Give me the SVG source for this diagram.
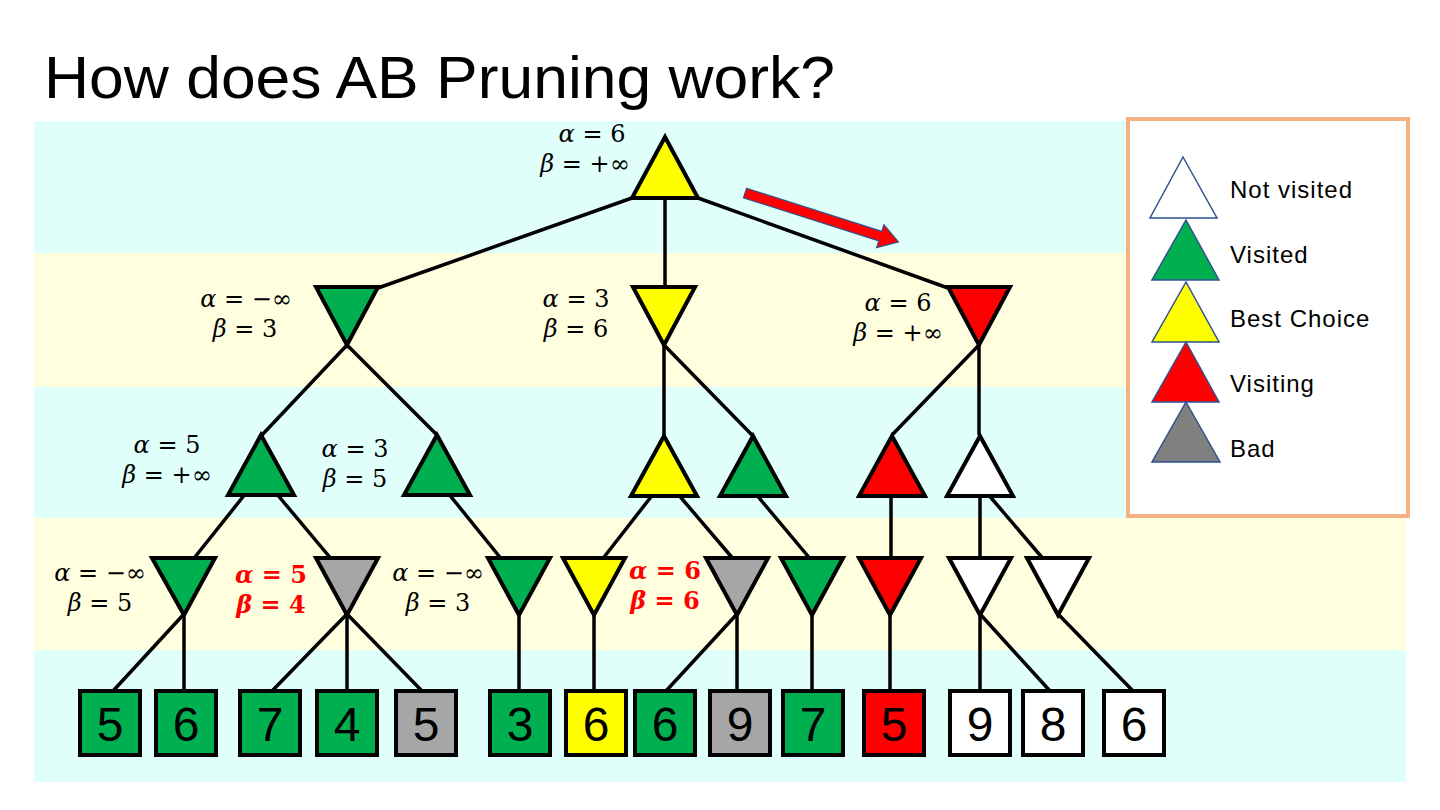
<svg xmlns="http://www.w3.org/2000/svg" width="1440" height="810" viewBox="0 0 1440 810">
<style>
.bc{fill:#E0FFFA}
.by{fill:#FFFFE0}
.n{stroke:#000;stroke-width:4;stroke-linejoin:miter}
.g{fill:#00B050}.y{fill:#FFFF00}.r{fill:#FF0000}.gr{fill:#A6A6A6}.w{fill:#FFFFFF}
.e{stroke:#000;stroke-width:3.5;fill:none}
.lb{font-family:"DejaVu Serif","Liberation Serif",serif;font-size:24px;fill:#000;text-anchor:middle}
.rb{font-family:"DejaVu Serif","Liberation Serif",serif;font-size:24px;fill:#FF0000;font-weight:bold;text-anchor:middle}
.v{font-style:italic}
.leaf{font-family:"Liberation Sans",Arial,sans-serif;font-size:48px;fill:#000;text-anchor:middle}
.lg{stroke:#2F528F;stroke-width:1.5}
.lt{font-family:"Liberation Sans",Arial,sans-serif;font-size:24px;fill:#000;letter-spacing:1px}
</style>
<rect width="1440" height="810" fill="#FFFFFF"/>
<text x="44" y="98" font-family="Liberation Sans, Arial, sans-serif" font-size="60" textLength="791" lengthAdjust="spacingAndGlyphs" fill="#000">How does AB Pruning work?</text>
<g id="background">
<rect class="bc" x="34" y="121" width="1372" height="132"/>
<rect class="by" x="34" y="253" width="1372" height="134"/>
<rect class="bc" x="34" y="387" width="1372" height="131"/>
<rect class="by" x="34" y="518" width="1372" height="132"/>
<rect class="bc" x="34" y="650" width="1372" height="132"/>
</g>
<g id="legend">
<rect x="1128" y="119" width="280" height="397" fill="#FFFFFF" stroke="#F4B183" stroke-width="4"/>
<polygon class="lg w" points="1183,157 1217,218 1150,218"/>
<polygon class="lg g" points="1186,220 1219,280 1152,280"/>
<polygon class="lg y" points="1186,282 1219,342 1152,342"/>
<polygon class="lg r" points="1186,342 1219,402 1152,402"/>
<polygon class="lg" fill="#808080" points="1186,402 1220,462 1152,462"/>
<text class="lt" x="1230" y="198">Not visited</text>
<text class="lt" x="1230" y="263">Visited</text>
<text class="lt" x="1230" y="327">Best Choice</text>
<text class="lt" x="1230" y="392">Visiting</text>
<text class="lt" x="1230" y="457">Bad</text>
</g>
<g id="connectors">
<line class="e" x1="632" y1="198" x2="378" y2="288"/>
<line class="e" x1="665" y1="198" x2="665" y2="288"/>
<line class="e" x1="698" y1="198" x2="948" y2="288"/>
<line class="e" x1="347" y1="345" x2="262" y2="435"/>
<line class="e" x1="347" y1="345" x2="437" y2="435"/>
<line class="e" x1="664" y1="345" x2="664" y2="435"/>
<line class="e" x1="664" y1="345" x2="752" y2="435"/>
<line class="e" x1="979" y1="345" x2="892" y2="435"/>
<line class="e" x1="979" y1="345" x2="979" y2="435"/>
<line class="e" x1="246" y1="493" x2="191" y2="562"/>
<line class="e" x1="276" y1="493" x2="333" y2="561"/>
<line class="e" x1="448" y1="493" x2="503" y2="561"/>
<line class="e" x1="654" y1="493" x2="601" y2="561"/>
<line class="e" x1="677" y1="493" x2="735" y2="561"/>
<line class="e" x1="755" y1="493" x2="812" y2="561"/>
<line class="e" x1="891" y1="493" x2="891" y2="561"/>
<line class="e" x1="980" y1="493" x2="980" y2="561"/>
<line class="e" x1="987" y1="493" x2="1045" y2="561"/>
<line class="e" x1="184" y1="614" x2="113" y2="691"/>
<line class="e" x1="184" y1="614" x2="184" y2="691"/>
<line class="e" x1="347" y1="614" x2="272" y2="691"/>
<line class="e" x1="347" y1="614" x2="347" y2="691"/>
<line class="e" x1="347" y1="614" x2="422" y2="691"/>
<line class="e" x1="519" y1="614" x2="519" y2="691"/>
<line class="e" x1="594" y1="614" x2="594" y2="691"/>
<line class="e" x1="737" y1="614" x2="666" y2="691"/>
<line class="e" x1="737" y1="614" x2="737" y2="691"/>
<line class="e" x1="812" y1="614" x2="812" y2="691"/>
<line class="e" x1="890" y1="614" x2="890" y2="691"/>
<line class="e" x1="980" y1="614" x2="980" y2="691"/>
<line class="e" x1="980" y1="614" x2="1050" y2="691"/>
<line class="e" x1="1058" y1="614" x2="1133" y2="691"/>
</g>
<g id="arrow">
<polygon transform="translate(745,193) rotate(17.7)" points="0,-5 142,-5 142,-12 161,0 142,12 142,5 0,5" fill="#FF0000" stroke="#2F528F" stroke-width="1.2"/>
</g>
<g id="root">
<polygon class="n y" points="665,137 698,198 632,198"/>
<text class="lb" x="592" y="142"><tspan class="v">α</tspan> = 6</text>
<text class="lb" x="585" y="172"><tspan class="v">β</tspan> = +∞</text>
</g>
<g id="min-left">
<polygon class="n g" points="316,287 378,287 347,345"/>
<text class="lb" x="246" y="307"><tspan class="v">α</tspan> = −∞</text>
<text class="lb" x="245" y="337"><tspan class="v">β</tspan> = 3</text>
</g>
<g id="min-mid">
<polygon class="n y" points="633,287 695,287 664,345"/>
<text class="lb" x="576" y="307"><tspan class="v">α</tspan> = 3</text>
<text class="lb" x="576" y="337"><tspan class="v">β</tspan> = 6</text>
</g>
<g id="min-right">
<polygon class="n r" points="948,287 1010,287 979,345"/>
<text class="lb" x="898" y="311"><tspan class="v">α</tspan> = 6</text>
<text class="lb" x="898" y="341"><tspan class="v">β</tspan> = +∞</text>
</g>
<g id="max-l1">
<polygon class="n g" points="261,435 294,495 228,495"/>
<text class="lb" x="167" y="453"><tspan class="v">α</tspan> = 5</text>
<text class="lb" x="167" y="483"><tspan class="v">β</tspan> = +∞</text>
</g>
<g id="max-l2">
<polygon class="n g" points="437,435 470,495 404,495"/>
<text class="lb" x="355" y="457"><tspan class="v">α</tspan> = 3</text>
<text class="lb" x="355" y="487"><tspan class="v">β</tspan> = 5</text>
</g>
<g id="max-m1">
<polygon class="n y" points="664,436 697,496 631,496"/>
</g>
<g id="max-m2">
<polygon class="n g" points="753,436 786,496 720,496"/>
</g>
<g id="max-r1">
<polygon class="n r" points="892,436 925,496 859,496"/>
</g>
<g id="max-r2">
<polygon class="n w" points="980,436 1013,496 947,496"/>
</g>
<g id="min-a">
<polygon class="n g" points="152,558 215,558 184,615"/>
<text class="lb" x="100" y="581"><tspan class="v">α</tspan> = −∞</text>
<text class="lb" x="100" y="611"><tspan class="v">β</tspan> = 5</text>
</g>
<g id="min-b">
<polygon class="n gr" points="316,558 378,558 347,615"/>
<text class="rb" x="271" y="583"><tspan class="v">α</tspan> = 5</text>
<text class="rb" x="271" y="613"><tspan class="v">β</tspan> = 4</text>
</g>
<g id="min-c">
<polygon class="n g" points="488,558 550,558 519,615"/>
<text class="lb" x="438" y="581"><tspan class="v">α</tspan> = −∞</text>
<text class="lb" x="438" y="611"><tspan class="v">β</tspan> = 3</text>
</g>
<g id="min-d">
<polygon class="n y" points="563,558 625,558 594,615"/>
<text class="rb" x="665" y="579"><tspan class="v">α</tspan> = 6</text>
<text class="rb" x="665" y="609"><tspan class="v">β</tspan> = 6</text>
</g>
<g id="min-e">
<polygon class="n gr" points="706,558 768,558 737,615"/>
</g>
<g id="min-f">
<polygon class="n g" points="781,558 843,558 812,615"/>
</g>
<g id="min-g">
<polygon class="n r" points="859,558 921,558 890,615"/>
</g>
<g id="min-h">
<polygon class="n w" points="949,558 1011,558 980,615"/>
</g>
<g id="min-i">
<polygon class="n w" points="1027,558 1089,558 1058,615"/>
</g>
<g id="leaves">
<g id="leaf1"><rect class="n g" x="80" y="691" width="60" height="64"/><text class="leaf" x="110" y="741">5</text></g>
<g id="leaf2"><rect class="n g" x="156" y="691" width="60" height="64"/><text class="leaf" x="186" y="741">6</text></g>
<g id="leaf3"><rect class="n g" x="240" y="691" width="60" height="64"/><text class="leaf" x="270" y="741">7</text></g>
<g id="leaf4"><rect class="n g" x="317" y="691" width="60" height="64"/><text class="leaf" x="347" y="741">4</text></g>
<g id="leaf5"><rect class="n gr" x="396" y="691" width="60" height="64"/><text class="leaf" x="426" y="741">5</text></g>
<g id="leaf6"><rect class="n g" x="490" y="691" width="60" height="64"/><text class="leaf" x="520" y="741">3</text></g>
<g id="leaf7"><rect class="n y" x="566" y="691" width="60" height="64"/><text class="leaf" x="596" y="741">6</text></g>
<g id="leaf8"><rect class="n g" x="635" y="691" width="60" height="64"/><text class="leaf" x="665" y="741">6</text></g>
<g id="leaf9"><rect class="n gr" x="710" y="691" width="60" height="64"/><text class="leaf" x="740" y="741">9</text></g>
<g id="leaf10"><rect class="n g" x="783" y="691" width="60" height="64"/><text class="leaf" x="813" y="741">7</text></g>
<g id="leaf11"><rect class="n r" x="864" y="691" width="60" height="64"/><text class="leaf" x="894" y="741">5</text></g>
<g id="leaf12"><rect class="n w" x="950" y="691" width="60" height="64"/><text class="leaf" x="980" y="741">9</text></g>
<g id="leaf13"><rect class="n w" x="1023" y="691" width="60" height="64"/><text class="leaf" x="1053" y="741">8</text></g>
<g id="leaf14"><rect class="n w" x="1104" y="691" width="60" height="64"/><text class="leaf" x="1134" y="741">6</text></g>
</g>
</svg>
